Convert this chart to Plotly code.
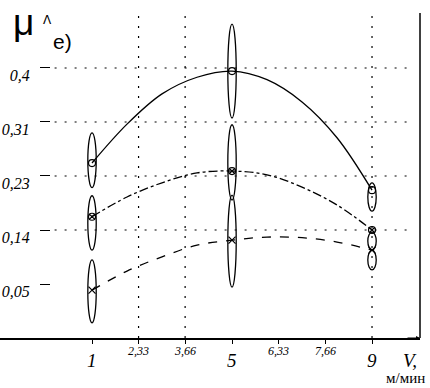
import plotly.graph_objects as go

# ---- data ----
x_curve = [1, 2, 3, 4, 5, 6, 7, 8, 9]
mu_top = [0.246, 0.309, 0.358, 0.385, 0.395, 0.381, 0.345, 0.287, 0.202]
mu_mid = [0.159, 0.191, 0.214, 0.230, 0.233, 0.227, 0.207, 0.178, 0.1375]
mu_bot = [0.040, 0.071, 0.094, 0.113, 0.121, 0.126, 0.125, 0.118, 0.105]

x_meas = [1, 5, 9]
top_lo = [0.206, 0.319, 0.168]
top_hi = [0.295, 0.471, 0.214]
mid_lo = [0.105, 0.186, 0.105]
mid_hi = [0.193, 0.308, 0.134]
bot_lo = [-0.013, 0.045, 0.073]
bot_hi = [0.089, 0.194, 0.105]

x_tickvals = [1, 2.33, 3.66, 5, 6.33, 7.66, 9]
x_ticktext = ["1", "2,33", "3,66", "5", "6,33", "7,66", "9"]
x_big = ["1", "5", "9"]
x_grid = [2.33, 3.66, 9]

y_tickvals = [0.05, 0.1375, 0.225, 0.3125, 0.4]
y_ticktext = ["0,05", "0,14", "0,23", "0,31", "0,4"]
y_grid = [0.1375, 0.225, 0.3125, 0.4]

X_RANGE = [-1.629, 10.371]
Y_RANGE = [-0.0375, 0.4891]
HALF_W = 0.12

fig = go.Figure()

for ys, dash, sym in [(mu_top, "solid", "circle-open"),
                      (mu_mid, "dashdot", "circle-x-open"),
                      (mu_bot, "dash", "x-thin-open")]:
    fig.add_trace(go.Scatter(x=x_curve, y=ys, mode="lines",
                             line=dict(color="black", width=1.3, dash=dash, shape="spline"),
                             showlegend=False, hoverinfo="skip"))
    fig.add_trace(go.Scatter(x=x_meas, y=[ys[x_curve.index(v)] for v in x_meas],
                             mode="markers",
                             marker=dict(symbol=sym, size=7, color="black",
                                         line=dict(color="black", width=1.2)),
                             showlegend=False, hoverinfo="skip"))

shapes = []
for lo, hi in [(top_lo, top_hi), (mid_lo, mid_hi), (bot_lo, bot_hi)]:
    for xv, l, h in zip(x_meas, lo, hi):
        shapes.append(dict(type="circle", xref="x", yref="y",
                           x0=xv - HALF_W, x1=xv + HALF_W, y0=l, y1=h,
                           line=dict(color="black", width=1.3)))
for gx in x_grid:
    shapes.append(dict(type="line", xref="x", yref="paper", x0=gx, x1=gx, y0=0, y1=1,
                       layer="below", line=dict(color="black", width=1.2, dash="2px,8px")))
for gy in y_grid:
    shapes.append(dict(type="line", xref="paper", yref="y", x0=0.13, x1=0.97, y0=gy, y1=gy,
                       layer="below", line=dict(color="black", width=1.2, dash="2px,8px")))
# right border
shapes.append(dict(type="line", xref="paper", yref="paper", x0=1, x1=1, y0=0, y1=1,
                   line=dict(color="black", width=1.5)))

annotations = []
for v, t in zip(x_tickvals, x_ticktext):
    big = t in x_big
    annotations.append(dict(x=v, y=0, xref="x", yref="paper", text=t, showarrow=False,
                            yanchor="top", yshift=-10 if big else -4,
                            font=dict(family="Liberation Serif", size=19 if big else 12,
                                      style="italic", color="black")))
annotations += [
    dict(x=0.955, y=0, xref="paper", yref="paper", text="V,", showarrow=False,
         xanchor="left", yanchor="top", yshift=-10,
         font=dict(family="Liberation Serif", size=19, style="italic", color="black")),
    dict(x=0.965, y=0, xref="paper", yref="paper", text="м/мин", showarrow=False,
         xanchor="center", yanchor="top", yshift=-30,
         font=dict(family="Liberation Serif", size=15, color="black")),
    dict(x=1.0, y=0, xref="paper", yref="paper", ax=-14, ay=0, text="", showarrow=True,
         arrowhead=2, arrowsize=0.8, arrowwidth=1, arrowcolor="black"),
    dict(x=0.025, y=1.04, xref="paper", yref="paper", text="μ", showarrow=False,
         xanchor="left", yanchor="top",
         font=dict(family="Liberation Sans", size=37, color="black")),
    dict(x=0.098, y=1.005, xref="paper", yref="paper", text="Λ", showarrow=False,
         xanchor="left", yanchor="top",
         font=dict(family="DejaVu Sans", size=12, color="black")),
    dict(x=0.122, y=0.955, xref="paper", yref="paper", text="e)", showarrow=False,
         xanchor="left", yanchor="top",
         font=dict(family="Liberation Sans", size=21, color="black")),
]

fig.update_layout(
    width=430, height=388,
    margin=dict(l=0, r=10, t=13, b=50, autoexpand=False),
    paper_bgcolor="white", plot_bgcolor="white",
    shapes=shapes, annotations=annotations,
    xaxis=dict(range=X_RANGE, showgrid=False, zeroline=False, automargin=False,
               showline=True, linecolor="black", linewidth=1.5,
               tickvals=x_tickvals, showticklabels=False,
               ticks="outside", ticklen=4, tickcolor="black"),
    yaxis=dict(range=Y_RANGE, showgrid=False, zeroline=False, showline=False,
               anchor="free", position=0.119, automargin=False,
               tickvals=y_tickvals, ticktext=y_ticktext,
               ticks="outside", ticklen=10, tickcolor="black", tickwidth=1.3,
               ticklabelshift=7, ticklabelstandoff=7,
               tickfont=dict(family="Liberation Serif", size=16, style="italic", color="black")),
)

fig.write_html("out.html", config={"displayModeBar": False},
               post_script="document.body.style.margin='0';document.body.style.overflow='hidden';")
